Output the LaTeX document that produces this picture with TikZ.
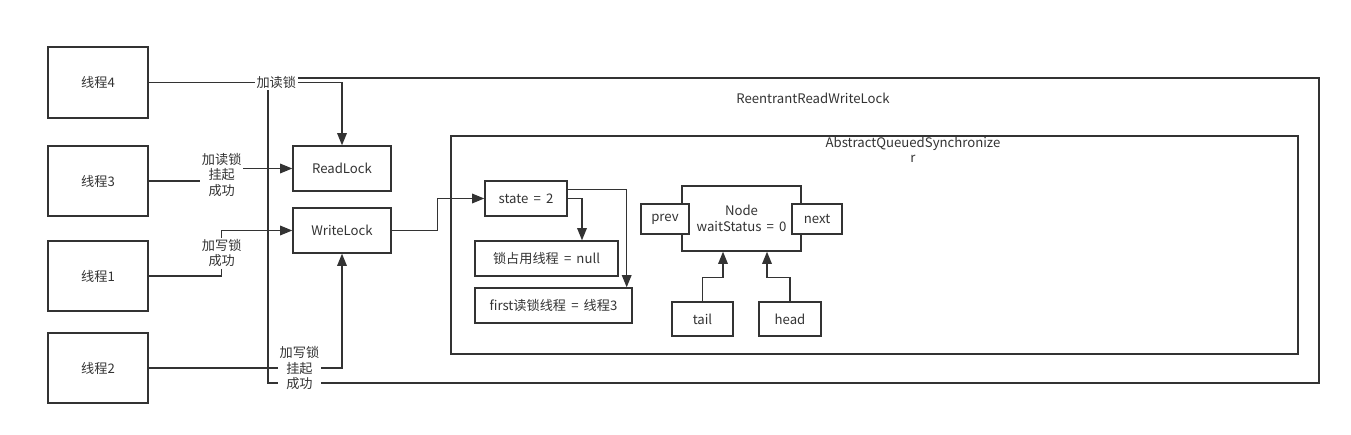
\documentclass[tikz,border=0pt]{standalone}
\usepackage{fontspec}
\setmainfont{Noto Sans CJK SC}
\usetikzlibrary{arrows.meta}
\definecolor{ink}{HTML}{333333}

\begin{document}
\begin{tikzpicture}[x=0.02cm, y=-0.02cm,
    every node/.style={font=\fontsize{7.5}{8.8}\selectfont, text=ink},
    box/.style={draw=ink, line width=0.8pt, inner sep=0pt, align=center},
    lbl/.style={fill=white, inner sep=1pt, align=center},
    wire/.style={draw=ink, line width=0.8pt},
    link/.style={wire, -{Triangle[length=7pt,width=5.5pt]}}]
				\useasboundingbox (0,0) rectangle (1351,435);
				\node[box, minimum width=21.02cm, minimum height=6.1cm] (rrwl) at (793.5,230.5) {};
				\node (rrwltxt) at (813,98) {ReentrantReadWriteLock};
				\node[box, minimum width=16.94cm, minimum height=4.36cm] (aqs) at (874.5,245) {};
				\node[align=center] (aqstxt) at (913,150) {AbstractQueuedSynchronize\\r};
				\node[box, minimum width=2cm, minimum height=1.42cm] (t4) at (98,82.5) {线程4};
				\node[box, minimum width=2cm, minimum height=1.4cm] (t3) at (98,181) {线程3};
				\node[box, minimum width=2cm, minimum height=1.4cm] (t1) at (98,276) {线程1};
				\node[box, minimum width=2cm, minimum height=1.4cm] (t2) at (98,368) {线程2};
				\node[box, minimum width=1.96cm, minimum height=0.9cm] (rl) at (342,168.5) {ReadLock};
				\node[box, minimum width=1.96cm, minimum height=0.9cm] (wl) at (342,230.5) {WriteLock};
				\node[box, minimum width=1.64cm, minimum height=0.7cm] (st) at (526,198.5) {state\ \,=\ \,2};
				\node[box, minimum width=2.86cm, minimum height=0.7cm] (own) at (546.5,258.5) {锁占用线程\ \,=\ \,null};
				\node[box, minimum width=3.14cm, minimum height=0.7cm] (first) at (553.5,305.5) {first读锁线程\ \,=\ \,线程3};
				\node[box, minimum width=2.38cm, minimum height=1.3cm] (nd) at (741.5,218.5) {Node\\waitStatus\ \,=\ \,0};
				\node[box, fill=white, minimum width=0.96cm, minimum height=0.6cm] (prev) at (665,219) {prev};
				\node[box, fill=white, minimum width=1cm, minimum height=0.6cm] (next) at (817,219) {next};
				\node[box, minimum width=1.22cm, minimum height=0.68cm] (tail) at (702.5,319) {tail};
				\node[box, minimum width=1.24cm, minimum height=0.68cm] (head) at (790,319) {head};
				\draw[link] (t4.east) -| node[lbl, pos=0.33] {加读锁} (rl.north);
				\draw[link] (t3.east) -- ++(73,0) |- node[lbl, pos=0.25] {加读锁\\挂起\\成功} (rl.west);
				\draw[link] (t1.east) -- ++(73,0) |- node[lbl, pos=0.25] {加写锁\\成功} (wl.west);
				\draw[link] (t2.east) -| node[lbl, pos=0.39] {加写锁\\挂起\\成功} (wl.south);
				\draw[link] (wl.east) -- ++(46,0) |- (st.west);
				\draw[link] (st.east) -| ([xshift=0.71cm]own.north);
				\draw[link] ([yshift=-0.18cm]st.north east) -| ([xshift=-0.12cm]first.north east);
				\draw[link] (tail.north) -- ++(0,-24) -| ([xshift=-0.37cm]nd.south);
				\draw[link] (head.north) -- ++(0,-24) -| ([xshift=0.51cm]nd.south);
\end{tikzpicture}
\end{document}
